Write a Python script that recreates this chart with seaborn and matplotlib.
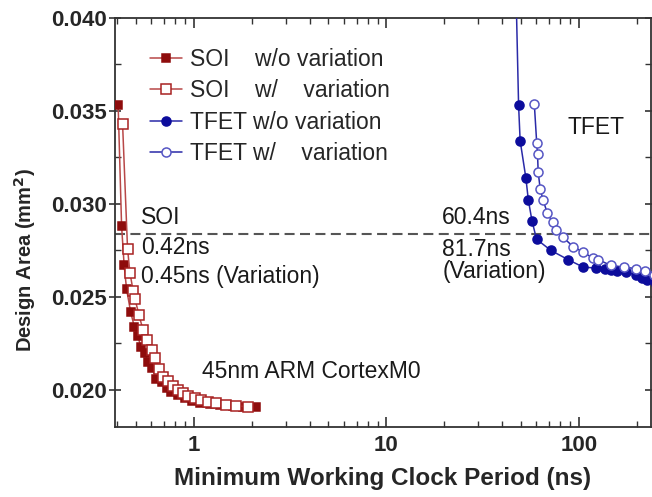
import matplotlib
matplotlib.use("Agg")
import matplotlib.pyplot as plt
from matplotlib.ticker import MultipleLocator, LogLocator, NullFormatter
import seaborn as sns

# Minimum working clock period (ns) vs. design area (mm^2)
soi_wo_x = [0.405, 0.422, 0.435, 0.448, 0.470, 0.491, 0.511, 0.533, 0.555, 0.580,
            0.604, 0.640, 0.680, 0.722, 0.766, 0.829, 0.898, 0.973, 1.074, 1.21,
            1.364, 1.598, 1.80, 2.11]
soi_wo_y = [0.0353, 0.0288, 0.0267, 0.0254, 0.0242, 0.0234, 0.0229, 0.0223, 0.0220, 0.0215,
            0.0212, 0.0206, 0.0204, 0.0201, 0.0199, 0.0197, 0.01955, 0.0194, 0.0193, 0.01925,
            0.0192, 0.01915, 0.0191, 0.01905]

soi_w_x = [0.427, 0.453, 0.466, 0.485, 0.495, 0.520, 0.546, 0.569, 0.604, 0.628,
           0.661, 0.694, 0.736, 0.781, 0.829, 0.880, 0.934, 1.012, 1.096, 1.186,
           1.31, 1.477, 1.665, 1.91]
soi_w_y = [0.0343, 0.0276, 0.0263, 0.0253, 0.0249, 0.0240, 0.0232, 0.0227, 0.02215, 0.0217,
           0.0211, 0.0207, 0.02045, 0.0202, 0.0200, 0.01982, 0.01966, 0.01955, 0.01946, 0.01937,
           0.01928, 0.0192, 0.01913, 0.0191]

tfet_wo_x = [46.3, 48.5, 49.4, 52.9, 54.5, 56.9, 60.1, 71.3, 87.7, 105.0,
             122.0, 135.8, 146.0, 158.0, 174.6, 196.7, 212.0, 226.0, 250.0]
tfet_wo_y = [0.0445, 0.0353, 0.0334, 0.0314, 0.0302, 0.0291, 0.0281, 0.0275, 0.0270, 0.0266,
             0.02655, 0.0265, 0.02645, 0.0264, 0.02633, 0.02618, 0.0260, 0.0259, 0.0257]

tfet_w_x = [58.5, 60.2, 60.8, 61.3, 62.8, 65.0, 68.4, 72.9, 76.0, 82.5,
            93.1, 105.0, 117.5, 125.6, 145.6, 170.0, 196.7, 220.0, 245.0]
tfet_w_y = [0.0354, 0.0333, 0.0327, 0.0317, 0.0308, 0.0302, 0.0295, 0.0290, 0.0286, 0.0282,
            0.0277, 0.0274, 0.0271, 0.0270, 0.0267, 0.0266, 0.02652, 0.0264, 0.0262]

target_area = 0.0284

y_ticks = [0.020, 0.025, 0.030, 0.035, 0.040]
y_tick_labels = ["0.020", "0.025", "0.030", "0.035", "0.040"]
x_ticks = [1, 10, 100]
x_tick_labels = ["1", "10", "100"]

sns.set_theme(style="ticks")
plt.rcParams["font.family"] = ["Liberation Sans", "DejaVu Sans"]

fig = plt.figure(figsize=(6.52, 4.97), dpi=100)
ax = fig.add_axes([115 / 652, 1 - 427 / 497, (651 - 115) / 652, (427 - 18) / 497])

ax.axhline(target_area, color="#555555", ls=(0, (4.8, 2.6)), lw=1.5, zorder=1)

soi_dark = "#8e0c0c"
soi_line = "#b84848"
tfet_dark = "#0c0c9c"
tfet_open = "#5656c4"
tfet_line = "#2a2aa8"

common = dict(ax=ax, sort=False, estimator=None, linewidth=1.1, markeredgewidth=1.1)

sns.lineplot(x=soi_wo_x, y=soi_wo_y, color=soi_line, marker="s", markersize=6,
             markerfacecolor=soi_dark, markeredgecolor=soi_dark,
             label="SOI    w/o variation", zorder=3, **common)
sns.lineplot(x=soi_w_x, y=soi_w_y, color=soi_line, marker="s", markersize=6.5,
             markerfacecolor="white", markeredgecolor="#a82222",
             label="SOI    w/    variation", zorder=4, **common)
sns.lineplot(x=tfet_wo_x, y=tfet_wo_y, color=tfet_line, marker="o", markersize=6.5,
             markerfacecolor=tfet_dark, markeredgecolor=tfet_dark,
             label="TFET w/o variation", zorder=3, **common)
sns.lineplot(x=tfet_w_x, y=tfet_w_y, color=tfet_line, marker="o", markersize=6.5,
             markerfacecolor="white", markeredgecolor=tfet_open,
             label="TFET w/    variation", zorder=4, **common)

ax.set_xscale("log")
ax.set_xlim(0.39, 236)
ax.set_ylim(0.018, 0.040)

ax.set_xticks(x_ticks)
ax.set_xticklabels(x_tick_labels, fontsize=16, fontweight="bold")
ax.xaxis.set_minor_locator(LogLocator(base=10, subs=[2, 3, 4, 5, 6, 7, 8, 9]))
ax.xaxis.set_minor_formatter(NullFormatter())
ax.set_yticks(y_ticks)
ax.set_yticklabels(y_tick_labels, fontsize=16, fontweight="bold")
ax.yaxis.set_minor_locator(MultipleLocator(0.0025))

ax.tick_params(axis="both", which="both", top=True, right=True, color="#333333")
ax.tick_params(axis="x", which="major", direction="in", length=7, width=1.2, pad=6)
ax.tick_params(axis="x", which="minor", direction="in", length=4, width=1.0)
ax.tick_params(axis="y", which="major", direction="inout", length=8, width=1.2, pad=2)
ax.tick_params(axis="y", which="minor", direction="in", length=4, width=1.0)
for s in ax.spines.values():
    s.set_color("#333333")
    s.set_linewidth(1.3)

ax.set_xlabel("Minimum Working Clock Period (ns)", fontsize=17.5, fontweight="bold")
ax.xaxis.set_label_coords(0.5, -0.097)
ax.set_ylabel("Design Area (mm$^\\mathbf{2}$)", fontsize=14.5, fontweight="bold")
ax.yaxis.set_label_coords(-0.143, 0.408)

ax.legend(loc="upper left", bbox_to_anchor=(0.065, 0.927), frameon=False, fontsize=16.5,
          handlelength=1.4, handletextpad=0.35, labelspacing=0.37, borderpad=0,
          borderaxespad=0)

txt = dict(fontsize=16.5, va="center", ha="left", color="#1a1a1a")
ax.text(0.531, 0.02925, "SOI", **txt)
ax.text(0.531, 0.02763, "0.42ns", **txt)
ax.text(0.531, 0.02608, "0.45ns (Variation)", **txt)
ax.text(1.10, 0.02097, "45nm ARM CortexM0", **txt)
ax.text(86.7, 0.03409, "TFET", **txt)
ax.text(19.5, 0.02925, "60.4ns", **txt)
ax.text(19.5, 0.02753, "81.7ns", **txt)
ax.text(19.5, 0.02634, "(Variation)", **txt)

fig.savefig("out.png", dpi=100)
